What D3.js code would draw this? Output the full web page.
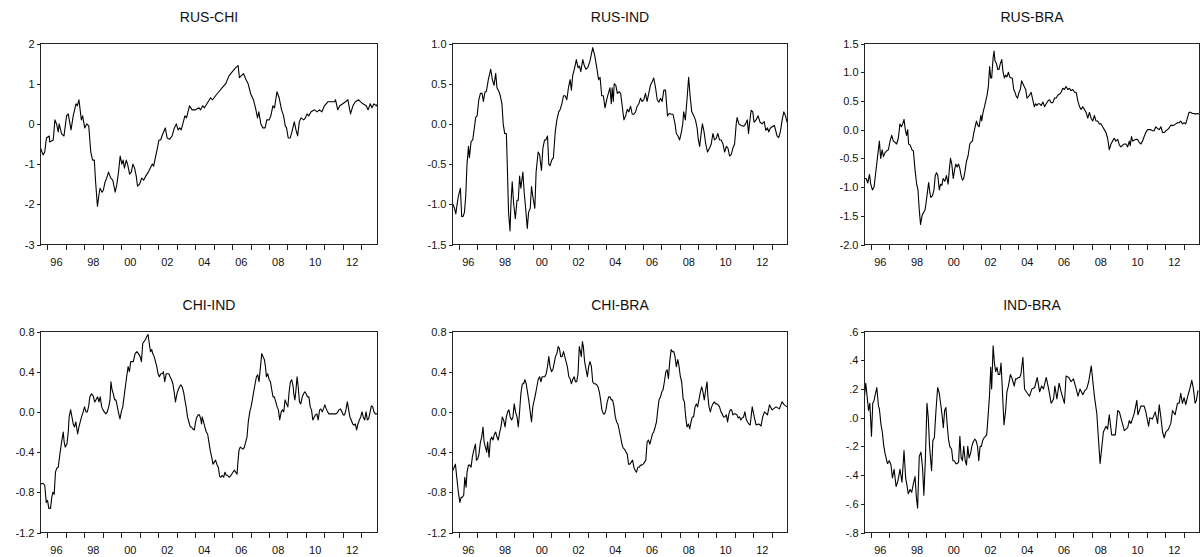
<!DOCTYPE html>
<html><head><meta charset="utf-8">
<script src="https://cdn.jsdelivr.net/npm/d3@7"></script>
<style>
html,body{margin:0;padding:0;background:#fff;}
svg{display:block;}
text{font-family:"Liberation Sans",Arial,Helvetica,sans-serif;fill:#111;}
</style></head><body>
<svg id="chart" width="1200" height="557"></svg>
<script>
// ---------- DATA ----------
const titles = ["RUS-CHI","RUS-IND","RUS-BRA","CHI-IND","CHI-BRA","IND-BRA"];
const xDomain = [1995.64, 2013.87];
const yearTicks = [1996,1997,1998,1999,2000,2001,2002,2003,2004,2005,2006,2007,2008,2009,2010,2011,2012,2013];
const labelYears = [1996,1998,2000,2002,2004,2006,2008,2010,2012];
const yearLabels = ["96","98","00","02","04","06","08","10","12"];
const yDomains = [[-3,2],[-1.5,1],[-2,1.5],[-1.2,0.8],[-1.2,0.8],[-0.8,0.6]];
const yTickValues = [
  [2,1,0,-1,-2,-3],
  [1,0.5,0,-0.5,-1,-1.5],
  [1.5,1,0.5,0,-0.5,-1,-1.5,-2],
  [0.8,0.4,0,-0.4,-0.8,-1.2],
  [0.8,0.4,0,-0.4,-0.8,-1.2],
  [0.6,0.4,0.2,0,-0.2,-0.4,-0.6,-0.8]
];
const yTickLabels = [
  ["2","1","0","-1","-2","-3"],
  ["1.0","0.5","0.0","-0.5","-1.0","-1.5"],
  ["1.5","1.0","0.5","0.0","-0.5","-1.0","-1.5","-2.0"],
  ["0.8","0.4","0.0","-0.4","-0.8","-1.2"],
  ["0.8","0.4","0.0","-0.4","-0.8","-1.2"],
  [".6",".4",".2",".0","-.2","-.4","-.6","-.8"]
];

const rusChi = [[1995.64,-0.6],[1995.78,-0.77],[1995.87,-0.7],[1995.96,-0.35],[1996.11,-0.3],[1996.14,-0.45],[1996.33,-0.4],[1996.42,0.1],[1996.51,0.0],[1996.60,-0.2],[1996.65,0.0],[1996.78,-0.25],[1996.91,-0.3],[1997.05,0.2],[1997.14,0.25],[1997.29,-0.15],[1997.41,0.2],[1997.56,0.5],[1997.63,0.45],[1997.72,0.6],[1997.85,0.1],[1997.92,0.2],[1998.03,-0.1],[1998.14,0.0],[1998.25,-0.05],[1998.36,-0.7],[1998.46,-0.9],[1998.55,-0.9],[1998.63,-1.5],[1998.72,-2.05],[1998.79,-1.8],[1998.86,-1.6],[1998.97,-1.7],[1999.04,-1.65],[1999.13,-1.45],[1999.22,-1.35],[1999.32,-1.2],[1999.44,-1.35],[1999.55,-1.4],[1999.68,-1.7],[1999.77,-1.5],[1999.86,-1.2],[1999.95,-0.8],[2000.04,-1.0],[2000.11,-0.9],[2000.18,-1.1],[2000.28,-0.9],[2000.35,-1.0],[2000.46,-1.25],[2000.55,-1.2],[2000.64,-1.0],[2000.73,-1.1],[2000.82,-1.3],[2000.89,-1.55],[2001.00,-1.5],[2001.11,-1.35],[2001.22,-1.4],[2001.33,-1.3],[2001.47,-1.2],[2001.58,-1.1],[2001.69,-1.0],[2001.76,-1.05],[2001.85,-0.85],[2001.94,-0.65],[2002.05,-0.4],[2002.14,-0.4],[2002.21,-0.3],[2002.30,-0.2],[2002.39,-0.1],[2002.49,-0.35],[2002.63,-0.38],[2002.76,-0.3],[2002.88,-0.1],[2002.99,0.0],[2003.08,-0.15],[2003.17,-0.1],[2003.25,-0.15],[2003.34,0.0],[2003.45,0.2],[2003.54,0.15],[2003.70,0.45],[2003.84,0.35],[2004.03,0.35],[2004.21,0.4],[2004.30,0.35],[2004.42,0.45],[2004.51,0.4],[2004.84,0.65],[2004.95,0.6],[2005.11,0.7],[2005.29,0.8],[2005.47,0.9],[2005.66,1.0],[2005.84,1.2],[2006.02,1.3],[2006.20,1.4],[2006.33,1.45],[2006.40,1.15],[2006.51,1.2],[2006.62,1.25],[2006.76,1.1],[2006.87,1.0],[2007.01,0.75],[2007.16,0.6],[2007.27,0.4],[2007.38,0.15],[2007.45,0.3],[2007.56,0.0],[2007.67,-0.1],[2007.79,-0.1],[2007.88,0.1],[2008.01,0.1],[2008.10,0.2],[2008.21,0.45],[2008.30,0.4],[2008.43,0.8],[2008.55,0.65],[2008.68,0.35],[2008.79,0.2],[2008.88,-0.05],[2008.95,-0.1],[2009.04,-0.35],[2009.15,-0.35],[2009.24,-0.2],[2009.37,0.05],[2009.46,-0.15],[2009.55,-0.3],[2009.64,0.05],[2009.73,0.15],[2009.88,0.1],[2009.97,0.15],[2010.06,0.25],[2010.15,0.2],[2010.28,0.3],[2010.46,0.35],[2010.60,0.3],[2010.73,0.35],[2010.86,0.3],[2011.00,0.45],[2011.18,0.55],[2011.45,0.55],[2011.54,0.55],[2011.60,0.6],[2011.72,0.35],[2011.83,0.45],[2011.99,0.5],[2012.14,0.55],[2012.27,0.6],[2012.41,0.25],[2012.54,0.45],[2012.67,0.55],[2012.85,0.6],[2012.96,0.55],[2013.08,0.5],[2013.26,0.45],[2013.36,0.35],[2013.48,0.5],[2013.57,0.4],[2013.68,0.5],[2013.81,0.45],[2013.87,0.5]];

const rusInd = [[1995.66,-1.0],[1995.75,-1.05],[1995.82,-1.12],[1995.89,-1.0],[1995.96,-0.9],[1996.07,-0.8],[1996.14,-1.15],[1996.22,-1.15],[1996.29,-1.1],[1996.36,-0.9],[1996.43,-0.5],[1996.51,-0.28],[1996.56,-0.42],[1996.65,-0.22],[1996.74,-0.2],[1996.83,-0.05],[1996.90,0.08],[1996.98,0.1],[1997.07,0.3],[1997.16,0.38],[1997.25,0.38],[1997.32,0.28],[1997.41,0.4],[1997.48,0.4],[1997.59,0.55],[1997.72,0.68],[1997.81,0.55],[1997.90,0.48],[1997.99,0.63],[1998.06,0.45],[1998.17,0.4],[1998.24,0.35],[1998.33,0.25],[1998.40,0.0],[1998.48,-0.12],[1998.57,-0.12],[1998.62,-0.5],[1998.69,-1.1],[1998.77,-1.33],[1998.82,-1.0],[1998.89,-0.72],[1998.97,-1.0],[1999.06,-1.18],[1999.15,-0.95],[1999.22,-0.95],[1999.29,-0.65],[1999.36,-0.8],[1999.47,-0.6],[1999.54,-0.85],[1999.62,-1.05],[1999.71,-1.3],[1999.78,-1.1],[1999.87,-1.05],[1999.94,-0.78],[2000.01,-0.9],[2000.12,-1.05],[2000.19,-0.6],[2000.30,-0.35],[2000.38,-0.38],[2000.48,-0.58],[2000.56,-0.3],[2000.65,-0.2],[2000.72,-0.2],[2000.81,-0.15],[2000.88,-0.5],[2000.95,-0.52],[2001.04,-0.45],[2001.13,-0.42],[2001.23,-0.1],[2001.32,0.05],[2001.42,0.15],[2001.50,0.18],[2001.59,0.25],[2001.68,0.35],[2001.77,0.35],[2001.86,0.3],[2001.95,0.45],[2002.04,0.55],[2002.11,0.42],[2002.18,0.6],[2002.29,0.7],[2002.38,0.8],[2002.47,0.7],[2002.55,0.72],[2002.62,0.65],[2002.73,0.8],[2002.82,0.72],[2002.91,0.68],[2003.00,0.7],[2003.12,0.78],[2003.27,0.95],[2003.38,0.85],[2003.49,0.7],[2003.59,0.55],[2003.67,0.58],[2003.76,0.35],[2003.85,0.35],[2003.94,0.2],[2004.03,0.3],[2004.12,0.38],[2004.21,0.45],[2004.28,0.25],[2004.33,0.45],[2004.39,0.28],[2004.44,0.5],[2004.53,0.48],[2004.61,0.38],[2004.70,0.4],[2004.79,0.38],[2004.86,0.25],[2004.97,0.05],[2005.06,0.1],[2005.15,0.18],[2005.24,0.15],[2005.33,0.22],[2005.42,0.12],[2005.51,0.12],[2005.60,0.15],[2005.69,0.22],[2005.78,0.25],[2005.87,0.32],[2005.96,0.28],[2006.05,0.3],[2006.14,0.38],[2006.23,0.28],[2006.32,0.38],[2006.41,0.48],[2006.50,0.52],[2006.59,0.57],[2006.69,0.45],[2006.78,0.3],[2006.87,0.27],[2006.96,0.32],[2007.05,0.28],[2007.14,0.42],[2007.23,0.42],[2007.34,0.1],[2007.43,0.13],[2007.55,0.12],[2007.64,0.12],[2007.75,0.0],[2007.82,-0.12],[2007.91,-0.15],[2008.00,-0.2],[2008.10,-0.1],[2008.17,0.0],[2008.22,0.15],[2008.31,0.05],[2008.40,0.3],[2008.49,0.58],[2008.57,0.35],[2008.66,0.15],[2008.77,0.1],[2008.86,0.05],[2008.95,-0.05],[2009.02,-0.2],[2009.09,-0.28],[2009.18,-0.1],[2009.24,0.0],[2009.33,-0.1],[2009.42,-0.25],[2009.52,-0.35],[2009.63,-0.3],[2009.72,-0.25],[2009.81,-0.12],[2009.90,-0.2],[2009.99,-0.18],[2010.08,-0.12],[2010.17,-0.2],[2010.26,-0.2],[2010.36,-0.25],[2010.45,-0.35],[2010.54,-0.28],[2010.63,-0.3],[2010.72,-0.4],[2010.81,-0.38],[2010.90,-0.3],[2010.99,-0.25],[2011.08,0.0],[2011.13,0.08],[2011.22,0.0],[2011.35,-0.02],[2011.48,-0.03],[2011.59,0.0],[2011.68,0.05],[2011.75,-0.12],[2011.80,0.0],[2011.89,0.17],[2011.98,0.15],[2012.05,0.02],[2012.16,0.05],[2012.27,0.1],[2012.38,0.02],[2012.49,0.0],[2012.60,0.03],[2012.69,-0.08],[2012.78,-0.05],[2012.85,-0.1],[2012.94,-0.05],[2013.07,-0.03],[2013.16,-0.02],[2013.30,-0.15],[2013.39,-0.17],[2013.48,-0.1],[2013.58,0.05],[2013.67,0.15],[2013.76,0.1],[2013.85,0.02]];

const rusBra = [[1995.64,-0.85],[1995.73,-0.85],[1995.82,-0.93],[1995.91,-0.78],[1995.98,-0.95],[1996.07,-1.05],[1996.16,-1.0],[1996.25,-0.75],[1996.34,-0.5],[1996.45,-0.2],[1996.52,-0.5],[1996.60,-0.35],[1996.67,-0.47],[1996.76,-0.4],[1996.85,-0.37],[1996.94,-0.35],[1997.03,-0.2],[1997.12,-0.1],[1997.21,-0.2],[1997.30,-0.22],[1997.39,-0.25],[1997.48,-0.15],[1997.57,0.1],[1997.65,0.05],[1997.72,0.1],[1997.79,0.18],[1997.86,0.0],[1997.93,-0.1],[1997.99,0.0],[1998.04,-0.25],[1998.13,-0.27],[1998.22,-0.35],[1998.30,-0.37],[1998.39,-0.7],[1998.48,-0.95],[1998.55,-1.05],[1998.62,-1.4],[1998.69,-1.65],[1998.77,-1.5],[1998.84,-1.45],[1998.93,-1.4],[1998.98,-1.3],[1999.06,-1.1],[1999.13,-0.92],[1999.20,-1.1],[1999.25,-1.18],[1999.34,-1.15],[1999.42,-1.05],[1999.49,-0.8],[1999.56,-0.75],[1999.63,-0.8],[1999.71,-1.05],[1999.78,-0.95],[1999.85,-0.97],[1999.92,-0.85],[2000.01,-0.9],[2000.10,-0.8],[2000.19,-0.95],[2000.25,-0.72],[2000.32,-0.5],[2000.39,-0.6],[2000.47,-0.85],[2000.54,-0.7],[2000.61,-0.6],[2000.68,-0.65],[2000.76,-0.6],[2000.83,-0.68],[2000.90,-0.8],[2000.97,-0.88],[2001.04,-0.85],[2001.12,-0.7],[2001.19,-0.55],[2001.28,-0.45],[2001.37,-0.25],[2001.44,-0.22],[2001.51,-0.2],[2001.59,-0.05],[2001.66,0.05],[2001.73,0.15],[2001.80,0.08],[2001.88,0.05],[2001.97,0.25],[2002.02,0.15],[2002.09,0.3],[2002.17,0.4],[2002.24,0.5],[2002.31,0.6],[2002.38,0.75],[2002.45,1.1],[2002.51,0.9],[2002.56,0.9],[2002.64,1.25],[2002.69,1.37],[2002.74,1.2],[2002.82,1.15],[2002.89,1.05],[2002.96,1.05],[2003.03,1.15],[2003.11,1.22],[2003.18,1.0],[2003.25,0.9],[2003.32,0.95],[2003.39,0.92],[2003.47,1.0],[2003.54,0.92],[2003.61,0.9],[2003.68,0.9],[2003.76,0.7],[2003.83,0.65],[2003.90,0.58],[2003.97,0.55],[2004.05,0.65],[2004.12,0.7],[2004.19,0.85],[2004.26,0.8],[2004.33,0.75],[2004.41,0.7],[2004.48,0.55],[2004.55,0.57],[2004.62,0.6],[2004.71,0.65],[2004.81,0.5],[2004.88,0.4],[2004.95,0.45],[2005.02,0.42],[2005.09,0.45],[2005.17,0.45],[2005.26,0.42],[2005.35,0.48],[2005.44,0.4],[2005.53,0.45],[2005.62,0.5],[2005.71,0.52],[2005.80,0.47],[2005.89,0.47],[2005.98,0.55],[2006.07,0.55],[2006.16,0.6],[2006.25,0.62],[2006.34,0.65],[2006.43,0.72],[2006.52,0.7],[2006.61,0.75],[2006.70,0.7],[2006.79,0.72],[2006.88,0.68],[2006.97,0.7],[2007.07,0.65],[2007.16,0.65],[2007.25,0.5],[2007.34,0.4],[2007.43,0.35],[2007.52,0.4],[2007.61,0.35],[2007.70,0.3],[2007.79,0.2],[2007.88,0.3],[2007.97,0.2],[2008.06,0.15],[2008.15,0.25],[2008.24,0.15],[2008.33,0.15],[2008.42,0.1],[2008.51,0.1],[2008.60,0.05],[2008.69,0.0],[2008.78,-0.05],[2008.87,-0.15],[2008.96,-0.35],[2009.05,-0.25],[2009.14,-0.2],[2009.23,-0.15],[2009.32,-0.2],[2009.42,-0.17],[2009.51,-0.27],[2009.60,-0.3],[2009.69,-0.27],[2009.78,-0.25],[2009.87,-0.25],[2009.96,-0.3],[2010.05,-0.2],[2010.10,-0.28],[2010.17,-0.12],[2010.23,-0.2],[2010.32,-0.18],[2010.41,-0.17],[2010.50,-0.17],[2010.59,-0.22],[2010.68,-0.25],[2010.77,-0.2],[2010.86,-0.12],[2010.95,-0.05],[2011.04,0.0],[2011.13,0.0],[2011.22,0.0],[2011.31,-0.02],[2011.40,-0.02],[2011.49,0.05],[2011.58,0.02],[2011.68,0.0],[2011.77,0.05],[2011.86,-0.05],[2011.95,-0.05],[2012.04,-0.02],[2012.13,0.0],[2012.22,0.03],[2012.31,0.08],[2012.40,0.07],[2012.49,0.08],[2012.58,0.1],[2012.67,0.12],[2012.76,0.12],[2012.85,0.15],[2012.94,0.1],[2013.03,0.12],[2013.12,0.1],[2013.21,0.2],[2013.30,0.3],[2013.39,0.3],[2013.48,0.28],[2013.57,0.28],[2013.66,0.27],[2013.74,0.28],[2013.87,0.27]];

const chiInd = [[1995.64,-0.72],[1995.78,-0.71],[1995.87,-0.73],[1995.95,-0.9],[1996.02,-0.88],[1996.09,-0.96],[1996.18,-0.96],[1996.25,-0.85],[1996.31,-0.8],[1996.38,-0.82],[1996.45,-0.6],[1996.52,-0.56],[1996.60,-0.55],[1996.69,-0.42],[1996.78,-0.3],[1996.87,-0.2],[1996.92,-0.3],[1996.98,-0.35],[1997.07,-0.32],[1997.14,-0.2],[1997.19,-0.05],[1997.27,0.02],[1997.34,-0.05],[1997.41,-0.12],[1997.48,-0.15],[1997.55,-0.1],[1997.65,-0.22],[1997.72,-0.15],[1997.79,-0.1],[1997.86,-0.05],[1997.95,0.0],[1998.02,0.05],[1998.10,0.0],[1998.17,0.0],[1998.24,0.05],[1998.31,0.15],[1998.40,0.18],[1998.49,0.16],[1998.57,0.1],[1998.64,0.12],[1998.73,0.15],[1998.80,0.1],[1998.87,0.15],[1998.95,0.05],[1999.02,0.02],[1999.09,0.0],[1999.18,-0.02],[1999.25,0.0],[1999.33,0.05],[1999.40,0.12],[1999.45,0.3],[1999.51,0.22],[1999.58,0.18],[1999.65,0.12],[1999.72,0.12],[1999.80,0.05],[1999.85,0.0],[1999.94,-0.07],[2000.01,0.0],[2000.09,0.05],[2000.16,0.15],[2000.23,0.25],[2000.30,0.35],[2000.38,0.45],[2000.45,0.4],[2000.52,0.5],[2000.59,0.5],[2000.66,0.5],[2000.76,0.58],[2000.85,0.6],[2000.94,0.58],[2001.03,0.55],[2001.10,0.5],[2001.17,0.68],[2001.24,0.7],[2001.32,0.72],[2001.39,0.75],[2001.46,0.77],[2001.51,0.7],[2001.59,0.6],[2001.66,0.62],[2001.71,0.58],[2001.79,0.55],[2001.86,0.5],[2001.93,0.45],[2002.00,0.38],[2002.07,0.35],[2002.15,0.38],[2002.22,0.38],[2002.29,0.4],[2002.36,0.3],[2002.44,0.38],[2002.51,0.38],[2002.58,0.38],[2002.65,0.35],[2002.73,0.32],[2002.80,0.28],[2002.87,0.2],[2002.94,0.1],[2003.02,0.18],[2003.09,0.22],[2003.16,0.25],[2003.23,0.27],[2003.30,0.25],[2003.38,0.2],[2003.45,0.12],[2003.52,0.05],[2003.59,-0.05],[2003.67,-0.1],[2003.74,-0.15],[2003.81,-0.15],[2003.88,-0.17],[2003.96,-0.18],[2004.03,-0.1],[2004.10,-0.05],[2004.17,-0.03],[2004.24,-0.03],[2004.32,-0.08],[2004.35,-0.12],[2004.39,-0.05],[2004.46,-0.1],[2004.53,-0.15],[2004.61,-0.2],[2004.68,-0.22],[2004.75,-0.3],[2004.82,-0.38],[2004.90,-0.45],[2004.97,-0.52],[2005.04,-0.5],[2005.11,-0.48],[2005.18,-0.52],[2005.26,-0.55],[2005.33,-0.64],[2005.40,-0.65],[2005.47,-0.63],[2005.55,-0.65],[2005.62,-0.6],[2005.69,-0.63],[2005.76,-0.63],[2005.84,-0.65],[2005.91,-0.64],[2005.98,-0.62],[2006.05,-0.6],[2006.12,-0.58],[2006.20,-0.6],[2006.27,-0.62],[2006.32,-0.5],[2006.38,-0.38],[2006.45,-0.35],[2006.52,-0.36],[2006.59,-0.37],[2006.67,-0.35],[2006.74,-0.3],[2006.81,-0.25],[2006.88,-0.1],[2006.96,0.0],[2007.03,0.05],[2007.10,0.12],[2007.17,0.2],[2007.25,0.28],[2007.32,0.35],[2007.39,0.37],[2007.46,0.3],[2007.54,0.45],[2007.61,0.58],[2007.68,0.55],[2007.75,0.52],[2007.81,0.45],[2007.86,0.35],[2007.93,0.38],[2008.01,0.32],[2008.08,0.3],[2008.15,0.22],[2008.22,0.15],[2008.29,0.15],[2008.37,0.1],[2008.44,0.05],[2008.51,0.02],[2008.58,-0.08],[2008.66,0.0],[2008.73,0.02],[2008.80,0.0],[2008.87,0.12],[2008.95,0.08],[2009.02,0.05],[2009.09,0.2],[2009.16,0.3],[2009.23,0.32],[2009.31,0.25],[2009.34,0.18],[2009.40,0.12],[2009.45,0.2],[2009.52,0.35],[2009.58,0.25],[2009.65,0.1],[2009.72,0.08],[2009.80,0.15],[2009.87,0.18],[2009.94,0.2],[2010.01,0.18],[2010.08,0.15],[2010.16,0.15],[2010.23,0.05],[2010.30,0.02],[2010.37,-0.08],[2010.45,-0.05],[2010.52,-0.03],[2010.59,-0.02],[2010.66,-0.08],[2010.74,0.02],[2010.81,0.03],[2010.88,0.0],[2010.95,0.03],[2011.02,0.07],[2011.10,0.03],[2011.17,0.0],[2011.24,-0.02],[2011.33,-0.02],[2011.42,-0.02],[2011.51,-0.02],[2011.60,-0.02],[2011.69,-0.01],[2011.78,0.02],[2011.87,0.03],[2011.95,0.0],[2012.02,-0.03],[2012.09,-0.03],[2012.16,0.02],[2012.24,0.1],[2012.31,0.02],[2012.38,-0.05],[2012.45,-0.08],[2012.53,-0.12],[2012.60,-0.13],[2012.67,-0.12],[2012.74,-0.18],[2012.81,-0.12],[2012.89,-0.08],[2012.96,-0.05],[2013.03,0.0],[2013.10,-0.05],[2013.18,-0.08],[2013.25,0.0],[2013.32,-0.08],[2013.39,-0.07],[2013.47,0.0],[2013.54,0.06],[2013.61,0.05],[2013.68,0.0],[2013.75,-0.02],[2013.87,-0.02]];

const chiBra = [[1995.67,-0.58],[1995.73,-0.55],[1995.80,-0.52],[1995.87,-0.65],[1995.96,-0.8],[1996.04,-0.9],[1996.11,-0.85],[1996.18,-0.85],[1996.25,-0.83],[1996.31,-0.65],[1996.38,-0.75],[1996.43,-0.6],[1996.51,-0.53],[1996.58,-0.53],[1996.65,-0.55],[1996.72,-0.45],[1996.80,-0.38],[1996.89,-0.32],[1996.94,-0.48],[1997.01,-0.47],[1997.08,-0.42],[1997.16,-0.3],[1997.23,-0.25],[1997.30,-0.15],[1997.36,-0.3],[1997.43,-0.35],[1997.50,-0.4],[1997.55,-0.3],[1997.63,-0.45],[1997.70,-0.28],[1997.77,-0.25],[1997.84,-0.28],[1997.92,-0.22],[1997.99,-0.2],[1998.06,-0.25],[1998.13,-0.28],[1998.21,-0.2],[1998.28,-0.15],[1998.35,-0.05],[1998.42,-0.08],[1998.50,-0.15],[1998.57,-0.05],[1998.64,0.0],[1998.71,0.02],[1998.78,-0.05],[1998.86,-0.08],[1998.93,-0.05],[1999.00,0.08],[1999.07,0.0],[1999.15,-0.05],[1999.22,-0.15],[1999.29,0.0],[1999.36,0.18],[1999.44,0.28],[1999.51,0.28],[1999.58,0.32],[1999.65,0.28],[1999.72,0.2],[1999.80,0.1],[1999.87,0.0],[1999.94,-0.1],[2000.01,0.05],[2000.09,0.12],[2000.16,0.18],[2000.23,0.25],[2000.30,0.32],[2000.38,0.35],[2000.45,0.3],[2000.52,0.35],[2000.59,0.35],[2000.66,0.35],[2000.74,0.38],[2000.81,0.45],[2000.88,0.55],[2000.95,0.45],[2001.03,0.4],[2001.10,0.42],[2001.17,0.48],[2001.24,0.55],[2001.32,0.58],[2001.39,0.65],[2001.46,0.63],[2001.53,0.55],[2001.60,0.55],[2001.68,0.6],[2001.75,0.55],[2001.82,0.5],[2001.89,0.45],[2001.97,0.35],[2002.04,0.33],[2002.11,0.28],[2002.18,0.32],[2002.26,0.35],[2002.33,0.3],[2002.40,0.3],[2002.47,0.38],[2002.54,0.65],[2002.60,0.6],[2002.65,0.55],[2002.71,0.7],[2002.76,0.65],[2002.83,0.5],[2002.91,0.42],[2002.98,0.35],[2003.05,0.45],[2003.12,0.5],[2003.20,0.45],[2003.27,0.3],[2003.34,0.28],[2003.41,0.28],[2003.49,0.27],[2003.56,0.25],[2003.63,0.2],[2003.70,0.12],[2003.77,0.02],[2003.85,-0.02],[2003.92,-0.02],[2003.99,0.02],[2004.06,0.1],[2004.14,0.15],[2004.21,0.15],[2004.28,0.12],[2004.35,0.12],[2004.43,0.05],[2004.50,-0.05],[2004.57,-0.1],[2004.64,-0.12],[2004.71,-0.18],[2004.79,-0.25],[2004.86,-0.32],[2004.93,-0.36],[2005.00,-0.37],[2005.08,-0.4],[2005.15,-0.42],[2005.22,-0.52],[2005.29,-0.52],[2005.37,-0.5],[2005.44,-0.48],[2005.51,-0.55],[2005.58,-0.58],[2005.65,-0.6],[2005.73,-0.55],[2005.80,-0.55],[2005.87,-0.53],[2005.94,-0.53],[2006.02,-0.52],[2006.09,-0.5],[2006.16,-0.48],[2006.23,-0.3],[2006.30,-0.28],[2006.38,-0.32],[2006.45,-0.27],[2006.52,-0.22],[2006.59,-0.2],[2006.67,-0.15],[2006.74,-0.1],[2006.81,0.02],[2006.88,0.12],[2006.96,0.15],[2007.03,0.2],[2007.10,0.22],[2007.17,0.3],[2007.25,0.4],[2007.32,0.42],[2007.39,0.33],[2007.46,0.5],[2007.54,0.62],[2007.61,0.6],[2007.68,0.6],[2007.75,0.55],[2007.82,0.45],[2007.90,0.52],[2007.97,0.45],[2008.04,0.35],[2008.11,0.3],[2008.19,0.13],[2008.26,0.1],[2008.33,-0.05],[2008.40,-0.15],[2008.48,-0.12],[2008.55,-0.17],[2008.62,-0.1],[2008.69,-0.05],[2008.76,-0.05],[2008.84,0.05],[2008.91,0.08],[2008.98,0.05],[2009.05,0.12],[2009.13,0.2],[2009.20,0.25],[2009.27,0.2],[2009.34,0.12],[2009.42,0.22],[2009.49,0.3],[2009.54,0.15],[2009.60,0.05],[2009.67,0.0],[2009.74,0.05],[2009.81,0.08],[2009.89,0.1],[2009.96,0.08],[2010.03,0.08],[2010.10,0.07],[2010.17,0.05],[2010.25,0.0],[2010.32,-0.02],[2010.39,-0.05],[2010.46,-0.05],[2010.54,-0.03],[2010.61,-0.1],[2010.68,-0.02],[2010.75,0.02],[2010.83,0.02],[2010.90,-0.03],[2010.97,-0.02],[2011.04,-0.02],[2011.12,-0.03],[2011.19,-0.06],[2011.26,-0.05],[2011.33,-0.08],[2011.40,-0.06],[2011.48,-0.05],[2011.55,0.0],[2011.62,-0.07],[2011.69,-0.1],[2011.77,-0.12],[2011.84,-0.13],[2011.95,0.05],[2012.06,-0.05],[2012.16,-0.13],[2012.31,-0.12],[2012.43,-0.14],[2012.52,-0.05],[2012.62,0.0],[2012.78,-0.03],[2012.89,0.07],[2013.03,0.02],[2013.25,0.05],[2013.43,0.03],[2013.57,0.1],[2013.70,0.07],[2013.85,0.05]];

const indBra = [[1995.64,0.15],[1995.71,0.24],[1995.86,0.05],[1995.93,0.1],[1996.02,-0.13],[1996.09,0.1],[1996.16,0.12],[1996.31,0.21],[1996.40,0.08],[1996.45,0.06],[1996.54,-0.05],[1996.61,-0.1],[1996.69,-0.2],[1996.76,-0.25],[1996.89,-0.32],[1996.99,-0.3],[1997.08,-0.33],[1997.16,-0.42],[1997.25,-0.36],[1997.36,-0.48],[1997.46,-0.44],[1997.57,-0.36],[1997.68,-0.45],[1997.79,-0.23],[1997.88,-0.42],[1997.95,-0.47],[1998.02,-0.53],[1998.12,-0.5],[1998.21,-0.52],[1998.30,-0.46],[1998.39,-0.41],[1998.46,-0.55],[1998.53,-0.63],[1998.62,-0.27],[1998.71,-0.24],[1998.80,-0.35],[1998.87,-0.54],[1998.95,-0.3],[1999.04,0.1],[1999.11,0.0],[1999.18,-0.2],[1999.29,-0.37],[1999.36,-0.16],[1999.44,-0.14],[1999.53,0.05],[1999.62,0.21],[1999.71,0.17],[1999.78,0.1],[1999.86,0.02],[1999.93,-0.07],[2000.00,0.05],[2000.07,0.07],[2000.14,-0.05],[2000.21,-0.15],[2000.28,-0.2],[2000.38,-0.22],[2000.45,-0.3],[2000.52,-0.3],[2000.61,-0.32],[2000.68,-0.32],[2000.76,-0.31],[2000.83,-0.13],[2000.90,-0.28],[2000.97,-0.3],[2001.04,-0.2],[2001.12,-0.3],[2001.19,-0.33],[2001.26,-0.2],[2001.33,-0.28],[2001.41,-0.25],[2001.48,-0.2],[2001.55,-0.17],[2001.64,-0.15],[2001.71,-0.16],[2001.79,-0.2],[2001.86,-0.3],[2001.93,-0.2],[2002.00,-0.2],[2002.07,-0.16],[2002.15,-0.14],[2002.22,-0.13],[2002.29,-0.12],[2002.36,0.0],[2002.44,0.15],[2002.51,0.35],[2002.56,0.2],[2002.64,0.5],[2002.71,0.38],[2002.78,0.32],[2002.85,0.35],[2002.92,0.3],[2003.00,0.3],[2003.07,0.38],[2003.14,0.2],[2003.23,-0.05],[2003.32,0.05],[2003.39,0.18],[2003.47,0.22],[2003.58,0.3],[2003.65,0.28],[2003.72,0.25],[2003.79,0.22],[2003.86,0.27],[2003.94,0.27],[2004.01,0.28],[2004.08,0.28],[2004.15,0.3],[2004.26,0.42],[2004.35,0.2],[2004.50,0.17],[2004.62,0.15],[2004.75,0.2],[2004.90,0.21],[2005.04,0.28],[2005.17,0.18],[2005.28,0.22],[2005.38,0.2],[2005.53,0.28],[2005.66,0.2],[2005.80,0.1],[2005.93,0.13],[2006.00,0.22],[2006.11,0.13],[2006.23,0.24],[2006.34,0.18],[2006.52,0.1],[2006.61,0.29],[2006.76,0.28],[2006.88,0.25],[2007.01,0.27],[2007.16,0.2],[2007.26,0.15],[2007.37,0.2],[2007.52,0.16],[2007.64,0.19],[2007.73,0.2],[2007.84,0.25],[2007.98,0.36],[2008.15,0.15],[2008.28,0.03],[2008.46,-0.32],[2008.64,-0.1],[2008.78,-0.06],[2008.87,-0.08],[2008.96,0.02],[2009.09,-0.12],[2009.29,-0.12],[2009.42,0.05],[2009.51,0.04],[2009.65,-0.03],[2009.78,-0.09],[2009.96,-0.07],[2010.05,-0.02],[2010.14,-0.04],[2010.32,0.03],[2010.46,0.12],[2010.52,0.02],[2010.68,0.08],[2010.86,0.08],[2010.95,0.04],[2011.10,-0.06],[2011.17,0.0],[2011.31,-0.01],[2011.46,0.04],[2011.59,-0.04],[2011.68,0.09],[2011.77,0.0],[2011.86,-0.1],[2011.95,-0.14],[2012.04,-0.1],[2012.18,-0.08],[2012.31,-0.04],[2012.40,0.05],[2012.54,0.02],[2012.67,0.1],[2012.76,0.1],[2012.85,0.17],[2012.94,0.1],[2013.03,0.14],[2013.12,0.09],[2013.23,0.15],[2013.34,0.2],[2013.45,0.26],[2013.54,0.2],[2013.63,0.1],[2013.70,0.12],[2013.79,0.19]];

const seriesList = [rusChi, rusInd, rusBra, chiInd, chiBra, indBra];

// ---------- LAYOUT ----------
const colX = [[40.5, 377.5], [452.5, 787.5], [864.5, 1199.5]];
const rowY = [[43.5, 244.5], [331.5, 532.5]];

const svg = d3.select("#chart");
const defs = svg.append("defs");

seriesList.forEach((data, i) => {
  const c = i % 3, r = Math.floor(i / 3);
  const [x0, x1] = colX[c];
  const [y0, y1] = rowY[r];
  const x = d3.scaleLinear().domain(xDomain).range([x0, x1]);
  const y = d3.scaleLinear().domain(yDomains[i]).range([y1, y0]);
  const g = svg.append("g");

  // title
  g.append("text")
    .attr("x", (x0 + x1) / 2)
    .attr("y", y0 - 22)
    .attr("text-anchor", "middle")
    .style("font-size", "14px")
    .text(titles[i]);

  // clip
  defs.append("clipPath").attr("id", "clip" + i)
    .append("rect").attr("x", x0).attr("y", y0).attr("width", x1 - x0).attr("height", y1 - y0);

  // y axis
  const yAxis = d3.axisLeft(y)
    .tickValues(yTickValues[i])
    .tickFormat((d, k) => yTickLabels[i][k])
    .tickSize(4).tickPadding(2);
  const ya = g.append("g").attr("transform", `translate(${x0},0)`).call(yAxis);
  ya.select(".domain").remove();
  ya.selectAll("line").attr("stroke", "#222").attr("shape-rendering", "crispEdges");
  ya.selectAll("text").style("font-size", "11px").attr("fill", "#111")
    .style("font-family", "'Liberation Sans', Arial, sans-serif");

  // x axis ticks (year starts)
  const xAxis = d3.axisBottom(x).tickValues(yearTicks).tickFormat("").tickSize(5);
  const xa = g.append("g").attr("transform", `translate(0,${y1})`).call(xAxis);
  xa.select(".domain").remove();
  xa.selectAll("line").attr("stroke", "#222").attr("shape-rendering", "crispEdges");

  // x labels centred in the middle of even years
  g.selectAll("text.xl").data(labelYears).enter().append("text")
    .attr("class", "xl")
    .attr("x", d => x(d + 0.5))
    .attr("y", y1 + 21)
    .attr("text-anchor", "middle")
    .style("font-size", "11px")
    .text((d, k) => yearLabels[k]);

  // data line
  const line = d3.line().x(d => x(d[0])).y(d => y(d[1]));
  g.append("path").datum(data)
    .attr("clip-path", `url(#clip${i})`)
    .attr("d", line)
    .attr("fill", "none")
    .attr("stroke", "#000")
    .attr("stroke-width", 1.1)
    .attr("stroke-linejoin", "round");

  // frame
  g.append("rect")
    .attr("x", x0).attr("y", y0)
    .attr("width", x1 - x0).attr("height", y1 - y0)
    .attr("fill", "none").attr("stroke", "#222").attr("stroke-width", 1)
    .attr("shape-rendering", "crispEdges");
});
</script>
</body></html>
